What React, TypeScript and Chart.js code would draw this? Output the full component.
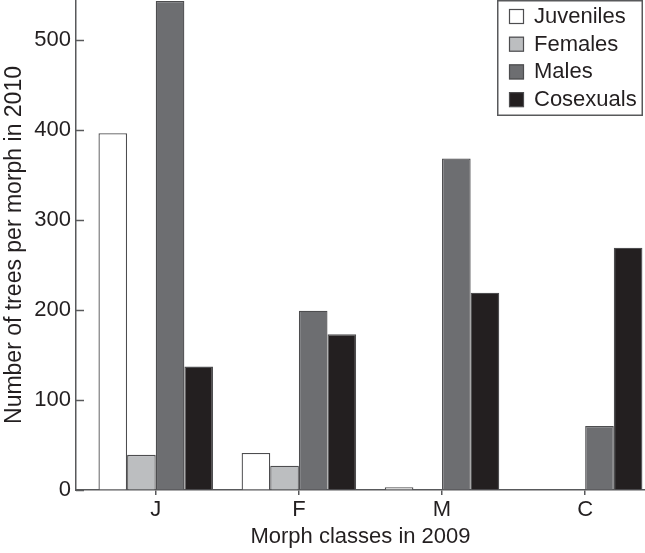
import React, { useEffect, useRef } from "react";
import { Chart, registerables } from "chart.js";

Chart.register(...registerables);

const categories = ["J", "F", "M", "C"];
const seriesNames = ["Juveniles", "Females", "Males", "Cosexuals"];
const juveniles = [396, 41, 3, 0];
const females = [39, 27, 0, 0];
const males = [543, 199, 368, 71];
const cosexuals = [137, 173, 219, 269];
const yTickValues = [0, 100, 200, 300, 400, 500];
const xTitle = "Morph classes in 2009";
const yTitle = "Number of trees per morph in 2010";

const FILLS = ["#ffffff", "#bcbec0", "#6d6e71", "#231f20"];
const EDGE = "#4d4d4f";
const AXIS = "#58595b";
const TEXT = "#231f20";
const FONT = "'Liberation Sans', Arial, Helvetica, sans-serif";

const inwardTicks = {
  id: "inwardTicks",
  afterDatasetsDraw(chart: any) {
    const { ctx, chartArea, scales } = chart;
    const y = scales.y;
    ctx.save();
    ctx.strokeStyle = AXIS;
    ctx.lineWidth = 1.5;
    y.ticks.forEach((t: any) => {
      const py = Math.round(y.getPixelForValue(t.value)) + 0.5;
      ctx.beginPath();
      ctx.moveTo(chartArea.left, py);
      ctx.lineTo(chartArea.left + 8, py);
      ctx.stroke();
    });
    ctx.restore();
  },
};

const boxLegend = {
  id: "boxLegend",
  afterDraw(chart: any) {
    const { ctx } = chart;
    const left = 497;
    const top = 0;
    const w = 146;
    const h = 116;
    ctx.save();
    ctx.fillStyle = "#ffffff";
    ctx.fillRect(left, top, w, h);
    ctx.strokeStyle = AXIS;
    ctx.lineWidth = 1.5;
    ctx.strokeRect(left + 0.75, top + 0.75, w - 1.5, h - 1.5);
    chart.data.datasets.forEach((ds: any, i: number) => {
      const cy = 16 + i * 27.7;
      ctx.fillStyle = ds.backgroundColor;
      ctx.fillRect(509, cy - 7, 15, 15);
      ctx.strokeStyle = EDGE;
      ctx.lineWidth = 1.2;
      ctx.strokeRect(509.5, cy - 6.5, 14, 14);
      ctx.fillStyle = TEXT;
      ctx.font = `22px ${FONT}`;
      ctx.textBaseline = "middle";
      ctx.textAlign = "left";
      ctx.fillText(ds.label, 534, cy + 1);
    });
    ctx.restore();
  },
};

export default function App() {
  const ref = useRef<HTMLCanvasElement | null>(null);

  useEffect(() => {
    if (!ref.current) return;
    const series = [juveniles, females, males, cosexuals];
    const chart = new Chart(ref.current, {
      type: "bar",
      data: {
        datasets: series.map((vals, si) => ({
          label: seriesNames[si],
          data: vals.map((v, i) => ({ x: i, y: v })),
          backgroundColor: FILLS[si],
          borderColor: EDGE,
          borderWidth: 1.3,
          categoryPercentage: 0.8,
          barPercentage: 1,
        })),
      },
      options: {
        responsive: false,
        animation: false,
        devicePixelRatio: 1,
        layout: { padding: 0 },
        plugins: {
          legend: { display: false },
          tooltip: { enabled: false },
          title: { display: false },
        },
        scales: {
          x: {
            type: "linear",
            min: -0.557,
            max: 3.418,
            offset: false,
            afterBuildTicks: (scale: any) => {
              scale.ticks = categories.map((_, i) => ({ value: i }));
            },
            afterFit: (scale: any) => {
              scale.height = 63;
              scale.paddingLeft = 0;
              scale.paddingRight = 0;
            },
            ticks: {
              autoSkip: false,
              maxRotation: 0,
              padding: 2,
              color: TEXT,
              font: { family: FONT, size: 22 },
              callback: (v: any) => categories[Math.round(Number(v))] ?? "",
            },
            grid: {
              display: true,
              drawOnChartArea: false,
              drawTicks: true,
              tickLength: 5,
              color: AXIS,
              lineWidth: 1.5,
              offset: false,
            },
            border: { display: true, color: AXIS, width: 1.5 },
            title: {
              display: true,
              text: xTitle,
              color: TEXT,
              font: { family: FONT, size: 22 },
              padding: { top: 0, bottom: 3 },
            },
          },
          y: {
            type: "linear",
            min: 0,
            max: 544,
            afterBuildTicks: (scale: any) => {
              scale.ticks = yTickValues.map((v) => ({ value: v }));
            },
            afterFit: (scale: any) => {
              scale.width = 76;
              scale.paddingTop = 0;
              scale.paddingBottom = 0;
            },
            ticks: {
              padding: 5,
              color: TEXT,
              font: { family: FONT, size: 22 },
            },
            grid: {
              display: true,
              drawOnChartArea: false,
              drawTicks: false,
            },
            border: { display: true, color: AXIS, width: 1.5 },
            title: {
              display: true,
              text: yTitle,
              color: TEXT,
              font: { family: FONT, size: 23 },
              padding: { top: 1, bottom: 0 },
            },
          },
        },
      },
      plugins: [inwardTicks, boxLegend],
    } as any);
    return () => chart.destroy();
  }, []);

  return (
    <div
      style={{
        position: "fixed",
        left: 0,
        top: 0,
        width: 645,
        height: 553,
        background: "#ffffff",
        overflow: "hidden",
      }}
    >
      <canvas
        ref={ref}
        width={645}
        height={553}
        style={{ display: "block", width: 645, height: 553 }}
      />
    </div>
  );
}
